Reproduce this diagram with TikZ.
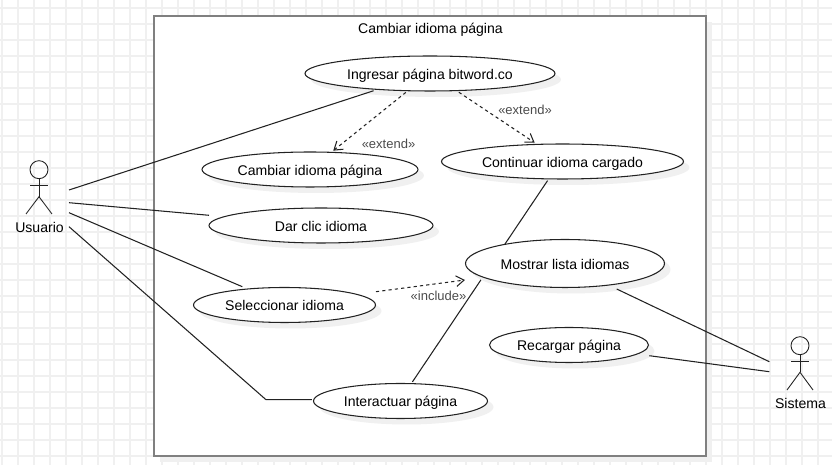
\documentclass[tikz,border=0pt]{standalone}
\usepackage{fontspec}
\setmainfont{Liberation Sans}
\usetikzlibrary{shapes.geometric}
\usetikzlibrary{arrows.meta}
\usetikzlibrary{shadows}
\definecolor{gridgray}{HTML}{F0F0F0}
\definecolor{boxgray}{HTML}{808080}
\definecolor{linegray}{HTML}{222222}
\tikzset{%
        usecase/.style={ellipse, draw=linegray, fill=white, line width=0.6pt, inner sep=0pt, outer sep=1pt,
          font=\fontsize{8pt}{9pt}\selectfont, text=black, text height=7.5pt, text depth=0.9pt,
          drop shadow={shadow xshift=6*0.2mm, shadow yshift=-6*0.2mm, fill=gridgray, opacity=1}},
        actorlabel/.style={font=\fontsize{8pt}{9pt}\selectfont, text=black},
        stereo/.style={font=\fontsize{7.4pt}{8pt}\selectfont, text=black!70},
        assoc/.style={draw=linegray, line width=0.6pt},
        depend/.style={draw=linegray, line width=0.6pt, dash pattern=on 1.8pt off 1.8pt, -{Straight Barb[length=4.5pt,width=6pt]}},
        stick/.style={draw=linegray, line width=0.5pt}
        }

\begin{document}
\begin{tikzpicture}[x=0.02cm,y=-0.02cm]
\useasboundingbox (0,0) rectangle (832,465);
% grid
\foreach \gx in {2,18,...,830} {
  \draw[gridgray, line width=1.1pt] (\gx,0) -- (\gx,465);
}
\foreach \gy in {8,24,...,464} {
  \draw[gridgray, line width=1.1pt] (0,\gy) -- (832,\gy);
}

% system box
\fill[gridgray] (160,22) rectangle (712,462);
\draw[boxgray, fill=white, line width=1.3pt] (154,16) rectangle (706,456);
\node[actorlabel] (title) at (430.5,29.5) {Cambiar idioma página};

% use cases
\node[usecase, minimum width=250*0.2mm, minimum height=35*0.2mm] (ingresar) at (430,73.5) {Ingresar página bitword.co};
\node[usecase, minimum width=216*0.2mm, minimum height=35*0.2mm] (cambiar) at (310,169.5) {Cambiar idioma página};
\node[usecase, minimum width=242*0.2mm, minimum height=35*0.2mm] (continuar) at (562.5,161.5) {Continuar idioma cargado};
\node[usecase, minimum width=224*0.2mm, minimum height=35*0.2mm] (darclic) at (321,225.5) {Dar clic idioma};
\node[usecase, minimum width=182*0.2mm, minimum height=35*0.2mm] (seleccionar) at (284.5,305) {Seleccionar idioma};
\node[usecase, minimum width=174*0.2mm, minimum height=35*0.2mm] (interactuar) at (400.5,401) {Interactuar página};
\draw[assoc] (interactuar.58) -- (continuar.232.5);
\node[usecase, minimum width=199*0.2mm, minimum height=48*0.2mm] (mostrar) at (565,263.5) {Mostrar lista idiomas};
\node[usecase, minimum width=159*0.2mm, minimum height=35*0.2mm] (recargar) at (569,345) {Recargar página};

% actors
\node[actorlabel] (usuario) at (39.5,227) {Usuario};
\draw[stick] (39,169.7) circle (9);
\draw[stick] (39,178.7) -- (39,196.7);
\draw[stick] (30,185) -- (48,185);
\draw[stick] (26,214) -- (39,196.7) -- (52,214);

\node[actorlabel] (sistema) at (800.5,403) {Sistema};
\draw[stick] (800,345.7) circle (9);
\draw[stick] (800,354.7) -- (800,372.3);
\draw[stick] (791,361) -- (809,361);
\draw[stick] (787,390) -- (800,372.3) -- (813,390);

\coordinate (usuarioa) at (69,190);
\coordinate (usuariob) at (69,202.7);
\coordinate (usuarioc) at (69,212.7);
\coordinate (usuariod) at (69,226.7);
\coordinate (bend) at (266,399.7);
\coordinate (darclicin) at (209,215.3);
\coordinate (seleccionarin) at (242.3,286.7);
\coordinate (seleccionarout) at (376,291.7);
\coordinate (mostrarin) at (465,280);
\coordinate (mostrarout) at (616.7,289);
\coordinate (recargarout) at (649.3,355.7);
\coordinate (sistemaa) at (769.3,361.7);
\coordinate (sistemab) at (769.3,371.7);

% associations
\draw[assoc] (usuarioa) -- (ingresar.197.7);
\draw[assoc] (usuariob) -- (darclicin);
\draw[assoc] (usuarioc) -- (seleccionarin);
\draw[assoc] (usuariod) -- (bend) -- (bend -| interactuar.west);
\draw[assoc] (mostrarout) -- (sistemaa);
\draw[assoc] (recargarout) -- (sistemab);

% dependencies
\draw[depend] (ingresar.218.4) -- (cambiar.39.3);
\draw[depend] (ingresar.-33) -- (continuar.146);
\draw[depend] (seleccionarout) -- (mostrarin);
\node[stereo] (extenda) at (388.5,143.7) {«extend»};
\node[stereo] (extendb) at (525,109.7) {«extend»};
\node[stereo] (includea) at (438.5,296) {«include»};
\end{tikzpicture}
\end{document}
